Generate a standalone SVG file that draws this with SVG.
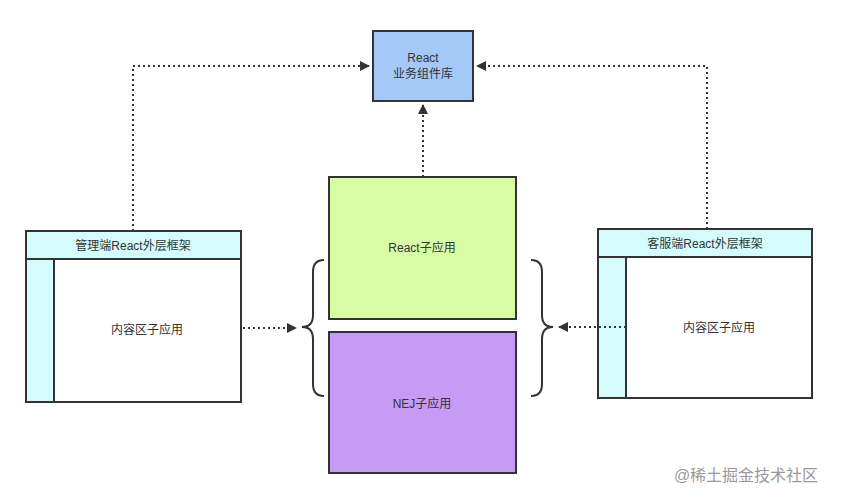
<svg xmlns="http://www.w3.org/2000/svg" width="841" height="501" viewBox="0 0 841 501">
<style>
text{font-family:"Liberation Sans","Noto Sans CJK SC",sans-serif;font-size:12px;fill:#333;text-anchor:middle}
.b{stroke:#333;stroke-width:2}
.c{fill:none;stroke:#333;stroke-width:2;stroke-dasharray:2 3}
.br{fill:none;stroke:#333;stroke-width:2}
</style>
<defs><marker id="a" viewBox="0 0 10 10" refX="9" refY="5" markerWidth="5" markerHeight="5" orient="auto"><path d="M0,0L10,5L0,10z" fill="#333"/></marker></defs>
<rect width="841" height="501" fill="#fff"/>
<g id="lib"><rect class="b" x="373" y="31" width="100" height="70" fill="#a4c8f8"/><text x="423" y="62">React</text><text x="423" y="78">业务组件库</text></g>
<g id="react"><rect class="b" x="329" y="177" width="187" height="142" fill="#d8fca4"/><text x="422" y="252">React子应用</text></g>
<g id="nej"><rect class="b" x="329" y="332" width="187" height="141" fill="#c69af5"/><text x="422" y="408">NEJ子应用</text></g>
<g id="admin"><rect class="b" x="26" y="231" width="215" height="171" fill="#fff"/><rect class="b" x="26" y="231" width="215" height="28" fill="#d4fcfc"/><rect class="b" x="26" y="259" width="28" height="143" fill="#d4fcfc"/><text x="133" y="250">管理端React外层框架</text><text x="147" y="334">内容区子应用</text></g>
<g id="cs"><rect class="b" x="598" y="229" width="214" height="169" fill="#fff"/><rect class="b" x="598" y="229" width="214" height="28" fill="#d4fcfc"/><rect class="b" x="598" y="257" width="28" height="141" fill="#d4fcfc"/><text x="705" y="248">客服端React外层框架</text><text x="719" y="332">内容区子应用</text></g>
<g id="braces"><path class="br" d="M324,260 Q313,260 313,272 L313,315 Q313,327 302,327 Q313,327 313,339 L313,384 Q313,396 324,396"/><path class="br" d="M531,260 Q542,260 542,272 L542,315 Q542,327 553,327 Q542,327 542,339 L542,384 Q542,396 531,396"/></g>
<g id="connectors">
<path class="c" d="M133,231 V66 H369" marker-end="url(#a)"/>
<path class="c" d="M707,229 V66 H477" marker-end="url(#a)"/>
<path class="c" d="M423,177 V105" marker-end="url(#a)"/>
<path class="c" d="M243,328 H296" marker-end="url(#a)"/>
<path class="c" d="M626,327 H559" marker-end="url(#a)"/>
</g>
<text x="746" y="481" style="font-size:16px;fill:#999">@稀土掘金技术社区</text>
</svg>
